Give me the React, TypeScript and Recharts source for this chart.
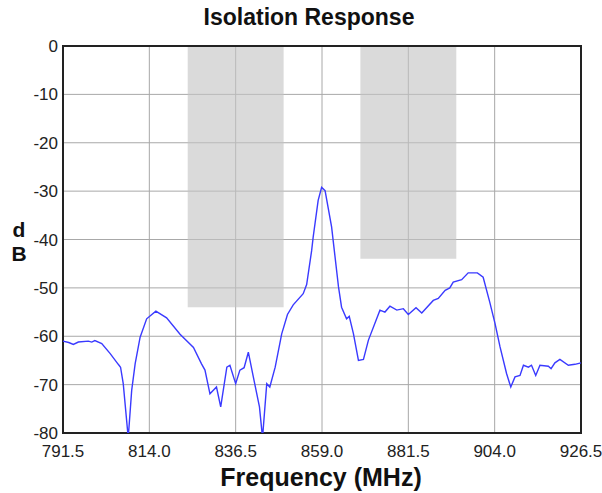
import React from 'react';
import {
  LineChart,
  Line,
  XAxis,
  YAxis,
  CartesianGrid,
  ReferenceArea,
} from 'recharts';

// frequency in MHz and isolation in dB
const freqs = [
  791.5, 793.0, 794.2, 795.5, 798.1, 799.0, 799.8, 801.6, 803.8, 805.9, 806.5, 807.2, 808.5, 809.4, 810.3,
  811.6, 813.3, 815.7, 818.5, 822.0, 825.5, 827.6, 828.5, 829.8, 831.5, 832.6, 834.2, 835.0, 836.5, 837.6,
  838.7, 839.8, 841.1, 842.7, 843.5, 844.6, 845.4, 846.8, 848.5, 850.0, 851.5, 854.1, 855.0, 856.3, 856.7,
  858.0, 858.9, 859.8, 861.5, 863.3, 864.1, 865.4, 866.1, 867.2, 868.5, 869.8, 871.1, 874.1, 875.4, 876.7,
  878.5, 880.2, 881.5, 883.5, 885.0, 888.0, 889.3, 891.1, 892.3, 893.2, 895.4, 897.1, 899.5, 901.0, 902.7,
  904.1, 905.4, 907.1, 908.2, 909.3, 910.6, 911.5, 912.8, 913.6, 914.7, 915.8, 918.0, 918.7, 919.7, 921.0,
  923.2, 924.9, 926.5,
];

const isolation = [
  -61.0, -61.3, -61.7, -61.2, -61.0, -61.2, -60.9, -61.5, -63.6, -65.8, -66.4, -69.8, -81.0, -71.2, -65.7,
  -60.2, -56.4, -54.8, -56.2, -59.6, -62.3, -65.7, -67.0, -71.9, -70.5, -74.6, -66.4, -66.0, -69.8, -67.0,
  -66.5, -63.3, -68.4, -74.6, -81.0, -69.8, -70.5, -66.4, -59.5, -55.5, -53.5, -51.2, -49.3, -42.3, -39.5,
  -31.9, -29.2, -29.9, -37.4, -49.8, -54.0, -56.4, -55.9, -59.5, -65.0, -64.8, -60.8, -54.6, -55.0, -53.8,
  -54.6, -54.3, -55.5, -54.1, -55.2, -52.6, -52.2, -50.5, -50.0, -48.8, -48.3, -46.9, -46.9, -47.8, -52.9,
  -57.4, -62.2, -67.7, -70.5, -68.4, -68.1, -66.0, -66.4, -66.0, -68.1, -66.0, -66.2, -66.7, -65.5, -64.8,
  -66.0, -65.8, -65.5,
];

const xTicks = [791.5, 814.0, 836.5, 859.0, 881.5, 904.0, 926.5];
const yTicks = [0, -10, -20, -30, -40, -50, -60, -70, -80];

// shaded bands: [start MHz, end MHz, lower dB limit]
const bands = [
  [824, 849, -54],
  [869, 894, -44],
];

const data = freqs.map((f, i) => ({ freq: f, db: isolation[i] }));

const font = 'Arial, "Liberation Sans", Helvetica, sans-serif';

const stackedLetter: React.CSSProperties = {
  position: 'absolute',
  left: 9,
  width: 20,
  height: 18,
  textAlign: 'center',
  fontSize: 21,
  fontWeight: 'bold',
  lineHeight: '18px',
  color: '#111',
};

const App: React.FC = () => {
  return (
    <div style={{ position: 'absolute', left: 0, top: 0, width: 602, height: 493, background: '#fff', fontFamily: font }}>
      <div
        style={{
          position: 'absolute',
          left: 0,
          width: 618,
          top: 4,
          textAlign: 'center',
          fontSize: 23,
          fontWeight: 'bold',
          color: '#111',
        }}
      >
        Isolation Response
      </div>
      {/* y axis title, letters stacked */}
      <div style={{ ...stackedLetter, top: 221 }}>d</div>
      <div style={{ ...stackedLetter, top: 245 }}>B</div>
      <div
        style={{
          position: 'absolute',
          left: 20,
          width: 602,
          top: 463,
          textAlign: 'center',
          fontSize: 25,
          fontWeight: 'bold',
          color: '#111',
        }}
      >
        Frequency (MHz)
      </div>
      <LineChart width={602} height={493} data={data} margin={{ top: 46, right: 21, left: 0, bottom: 30 }}>
        {bands.map((b, i) => (
          <ReferenceArea
            key={`band-${i}`}
            x1={b[0]}
            x2={b[1]}
            y1={b[2]}
            y2={0}
            fill="#c4c4c4"
            fillOpacity={0.62}
            stroke="none"
            ifOverflow="hidden"
          />
        ))}
        <CartesianGrid stroke="#a8a8a8" strokeWidth={1} />
        <XAxis
          type="number"
          dataKey="freq"
          domain={[791.5, 926.5]}
          ticks={xTicks}
          tickFormatter={(v: number) => v.toFixed(1)}
          height={30}
          axisLine={false}
          tickLine={false}
          tickSize={6}
          tickMargin={6}
          tick={{ fill: '#222', fontSize: 17, fontFamily: font }}
          interval={0}
        />
        <YAxis
          type="number"
          domain={[-80, 0]}
          ticks={yTicks}
          width={63}
          axisLine={false}
          tickLine={false}
          tickSize={5}
          tickMargin={0}
          allowDataOverflow
          tick={{ fill: '#222', fontSize: 17, fontFamily: font }}
          interval={0}
        />
        <Line
          type="linear"
          dataKey="db"
          stroke="#3a3aff"
          strokeWidth={1.4}
          dot={false}
          isAnimationActive={false}
        />
        <ReferenceArea
          x1={791.5}
          x2={926.5}
          y1={-80}
          y2={0}
          fill="none"
          stroke="#222"
          strokeWidth={2}
          ifOverflow="visible"
        />
      </LineChart>
    </div>
  );
};

export default App;
